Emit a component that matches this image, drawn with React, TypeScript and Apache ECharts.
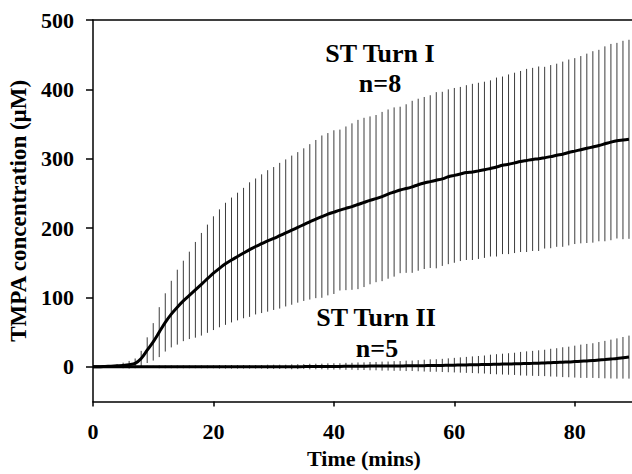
import React, { useEffect, useRef } from "react";
import * as echarts from "echarts";

const TIMES = [
  0, 1, 2, 3, 4, 5, 6, 7, 8, 9,
  10, 11, 12, 13, 14, 15, 16, 17, 18, 19,
  20, 21, 22, 23, 24, 25, 26, 27, 28, 29,
  30, 31, 32, 33, 34, 35, 36, 37, 38, 39,
  40, 41, 42, 43, 44, 45, 46, 47, 48, 49,
  50, 51, 52, 53, 54, 55, 56, 57, 58, 59,
  60, 61, 62, 63, 64, 65, 66, 67, 68, 69,
  70, 71, 72, 73, 74, 75, 76, 77, 78, 79,
  80, 81, 82, 83, 84, 85, 86, 87, 88, 89,
];

const TURN1_MEAN = [
  0, 0, 0.5, 1, 1.5, 2, 3, 5, 12, 24,
  36, 50, 64, 76, 86, 95, 103, 111, 119, 127,
  135, 142, 148.5, 154, 159, 164, 169, 173.5, 177.5, 181.5,
  185, 189, 193, 197, 201, 205, 209, 213, 216.5, 220,
  223, 226, 228.5, 231, 234, 237, 240, 242.5, 245.5, 249,
  252, 255, 257, 259.5, 262.5, 265, 267, 269, 271, 274,
  276, 278, 280, 281, 282.5, 284, 286, 288, 290.5, 292,
  294, 296, 297.5, 299, 300, 301.5, 303, 305, 306.5, 309,
  311, 313, 315, 317, 319, 321.5, 324, 326, 327, 328,
];

const TURN1_ERR = [
  0, 0.5, 0.5, 1, 2, 4, 5.5, 7, 11, 18.5,
  27, 36, 42, 48, 54, 58, 63, 69, 74, 78,
  82, 85, 88, 90, 92, 94, 97, 98, 100, 102,
  103, 105, 106, 107.5, 108.5, 110, 112, 114, 117, 117,
  118, 116, 118, 120, 122, 122, 121, 120.5, 122, 122,
  122, 120, 121.5, 124, 124, 124, 124.5, 127, 125.5, 126,
  126, 125.5, 126, 127, 127, 127, 127, 129, 128, 129.5,
  130, 130.5, 132, 132, 133, 131, 132, 132, 133.5, 134,
  134, 135, 136.5, 138, 138, 140.5, 141.5, 141, 143, 143.5,
];

const TURN2_MEAN = [
  0, 0, 0, 0, 0, 0, 0, 0, 0, 0,
  0, 0, 0, 0, 0, 0, 0, 0, 0, 0,
  0, 0, 0, 0, 0, 0, 0, 0, 0, 0,
  0, 0, 0, 0, 0.2, 0.3, 0.4, 0.5, 0.5, 0.5,
  0.6, 0.6, 0.7, 0.8, 0.8, 0.9, 1, 1, 1, 1.1,
  1.2, 1.3, 1.4, 1.5, 1.6, 1.7, 1.8, 1.9, 2, 2.2,
  2.4, 2.6, 2.8, 3, 3.1, 3.3, 3.5, 3.7, 3.9, 4.1,
  4.3, 4.5, 4.8, 5, 5.3, 5.6, 6, 6.3, 6.7, 7,
  7.5, 8, 8.5, 9, 9.7, 10.4, 11.2, 12, 13, 14,
];

const TURN2_ERR = [
  0, 1, 1.5, 1.5, 1.5, 1.5, 1.5, 1.5, 1.5, 1.5,
  1.5, 2, 2, 2, 2, 2, 2, 2, 2, 2,
  2, 2.5, 2.5, 2.5, 2.5, 2.5, 2.5, 2.5, 2.5, 3,
  3, 3, 3, 3.5, 3.5, 3.5, 4, 4, 4, 4.5,
  4.5, 4.5, 5, 5, 5.5, 5.5, 6, 6, 6.5, 6.5,
  7, 7, 7.5, 7.5, 8, 8.5, 9, 9, 9.5, 10,
  10.5, 11, 11.5, 12, 12.5, 13, 14, 14.5, 15, 15.5,
  16, 17, 17.5, 18, 18.5, 19, 20, 20.5, 21.5, 22,
  23, 24, 24.5, 25, 26, 27, 28, 29, 30, 31,
];

const X_TICKS = [0, 20, 40, 60, 80];
const Y_TICKS = [0, 100, 200, 300, 400, 500];
const X_NAME = "Time (mins)";
const Y_NAME = "TMPA concentration (µM)";
const TURN1_LABEL = "ST Turn I";
const TURN1_N = "n=8";
const TURN2_LABEL = "ST Turn II";
const TURN2_N = "n=5";

const FONT = '"Liberation Serif", "Times New Roman", serif';

export default function App() {
  const ref = useRef<HTMLDivElement>(null);

  useEffect(() => {
    const chart = echarts.init(ref.current as HTMLDivElement, null, { renderer: "svg" });

    const bars = (mean: number[], err: number[]) =>
      TIMES.map((t, i) => [t, mean[i] - err[i], mean[i] + err[i]]);
    const line = (mean: number[]) => TIMES.map((t, i) => [t, mean[i]]);

    const renderBar = (_params: any, api: any) => {
      const lo = api.coord([api.value(0), api.value(1)]);
      const hi = api.coord([api.value(0), api.value(2)]);
      return {
        type: "line",
        shape: { x1: lo[0], y1: lo[1], x2: hi[0], y2: hi[1] },
        style: { stroke: "#3c3c3c", lineWidth: 1 },
      };
    };

    const axisLineStyle = { color: "#000", width: 1.5 };
    const textBase = { color: "#000", fontFamily: FONT, fontWeight: "bold" as const };

    chart.setOption({
      animation: false,
      backgroundColor: "#fff",
      grid: {
        left: 93,
        right: -3,
        top: 20,
        bottom: 72.5,
        containLabel: false,
        outerBoundsMode: "none",
      },
      xAxis: [
        {
          type: "value",
          min: 0,
          max: 90,
          position: "bottom",
          axisLine: { show: true, onZero: false, lineStyle: axisLineStyle },
          axisTick: { show: true, customValues: X_TICKS, length: 5, lineStyle: axisLineStyle },
          axisLabel: { customValues: X_TICKS, margin: 19, fontSize: 22, ...textBase },
          splitLine: { show: false },
          name: X_NAME,
          nameLocation: "middle",
          nameGap: 42,
          nameTextStyle: { fontSize: 22, ...textBase },
        },
        {
          type: "value",
          min: 0,
          max: 90,
          position: "top",
          axisLine: { show: true, onZero: false, lineStyle: axisLineStyle },
          axisTick: { show: false },
          axisLabel: { show: false },
          splitLine: { show: false },
        },
      ],
      yAxis: {
        type: "value",
        min: -50,
        max: 500,
        axisLine: { show: true, onZero: false, lineStyle: axisLineStyle },
        axisTick: { show: true, customValues: Y_TICKS, length: 7, lineStyle: axisLineStyle },
        axisLabel: { customValues: Y_TICKS, margin: 19, fontSize: 22, ...textBase },
        splitLine: { show: false },
        name: Y_NAME,
        nameLocation: "middle",
        nameGap: 57,
        nameTextStyle: { fontSize: 23, ...textBase },
      },
      series: [
        {
          type: "custom",
          name: "Turn I SD",
          renderItem: renderBar,
          data: bars(TURN1_MEAN, TURN1_ERR),
          encode: { x: 0, y: [1, 2] },
          z: 1,
          silent: true,
        },
        {
          type: "custom",
          name: "Turn II SD",
          renderItem: renderBar,
          data: bars(TURN2_MEAN, TURN2_ERR),
          encode: { x: 0, y: [1, 2] },
          z: 1,
          silent: true,
        },
        {
          type: "line",
          name: "ST Turn I",
          data: line(TURN1_MEAN),
          showSymbol: false,
          smooth: 0.3,
          lineStyle: { color: "#000", width: 3 },
          z: 3,
          silent: true,
        },
        {
          type: "line",
          name: "ST Turn II",
          data: line(TURN2_MEAN),
          showSymbol: false,
          smooth: 0.3,
          lineStyle: { color: "#000", width: 3 },
          z: 3,
          silent: true,
        },
      ],
      graphic: [
        {
          type: "text",
          x: 380,
          y: 53,
          style: { text: TURN1_LABEL, textAlign: "center", textVerticalAlign: "middle", fontSize: 26, fontWeight: "bold", fontFamily: FONT, fill: "#000" },
        },
        {
          type: "text",
          x: 380,
          y: 83,
          style: { text: TURN1_N, textAlign: "center", textVerticalAlign: "middle", fontSize: 26, fontWeight: "bold", fontFamily: FONT, fill: "#000" },
        },
        {
          type: "text",
          x: 376,
          y: 317,
          style: { text: TURN2_LABEL, textAlign: "center", textVerticalAlign: "middle", fontSize: 26, fontWeight: "bold", fontFamily: FONT, fill: "#000" },
        },
        {
          type: "text",
          x: 377,
          y: 348,
          style: { text: TURN2_N, textAlign: "center", textVerticalAlign: "middle", fontSize: 26, fontWeight: "bold", fontFamily: FONT, fill: "#000" },
        },
      ],
    });

    return () => chart.dispose();
  }, []);

  return (
    <div
      ref={ref}
      style={{ position: "fixed", left: 0, top: 0, width: 632, height: 474, background: "#fff" }}
    />
  );
}
